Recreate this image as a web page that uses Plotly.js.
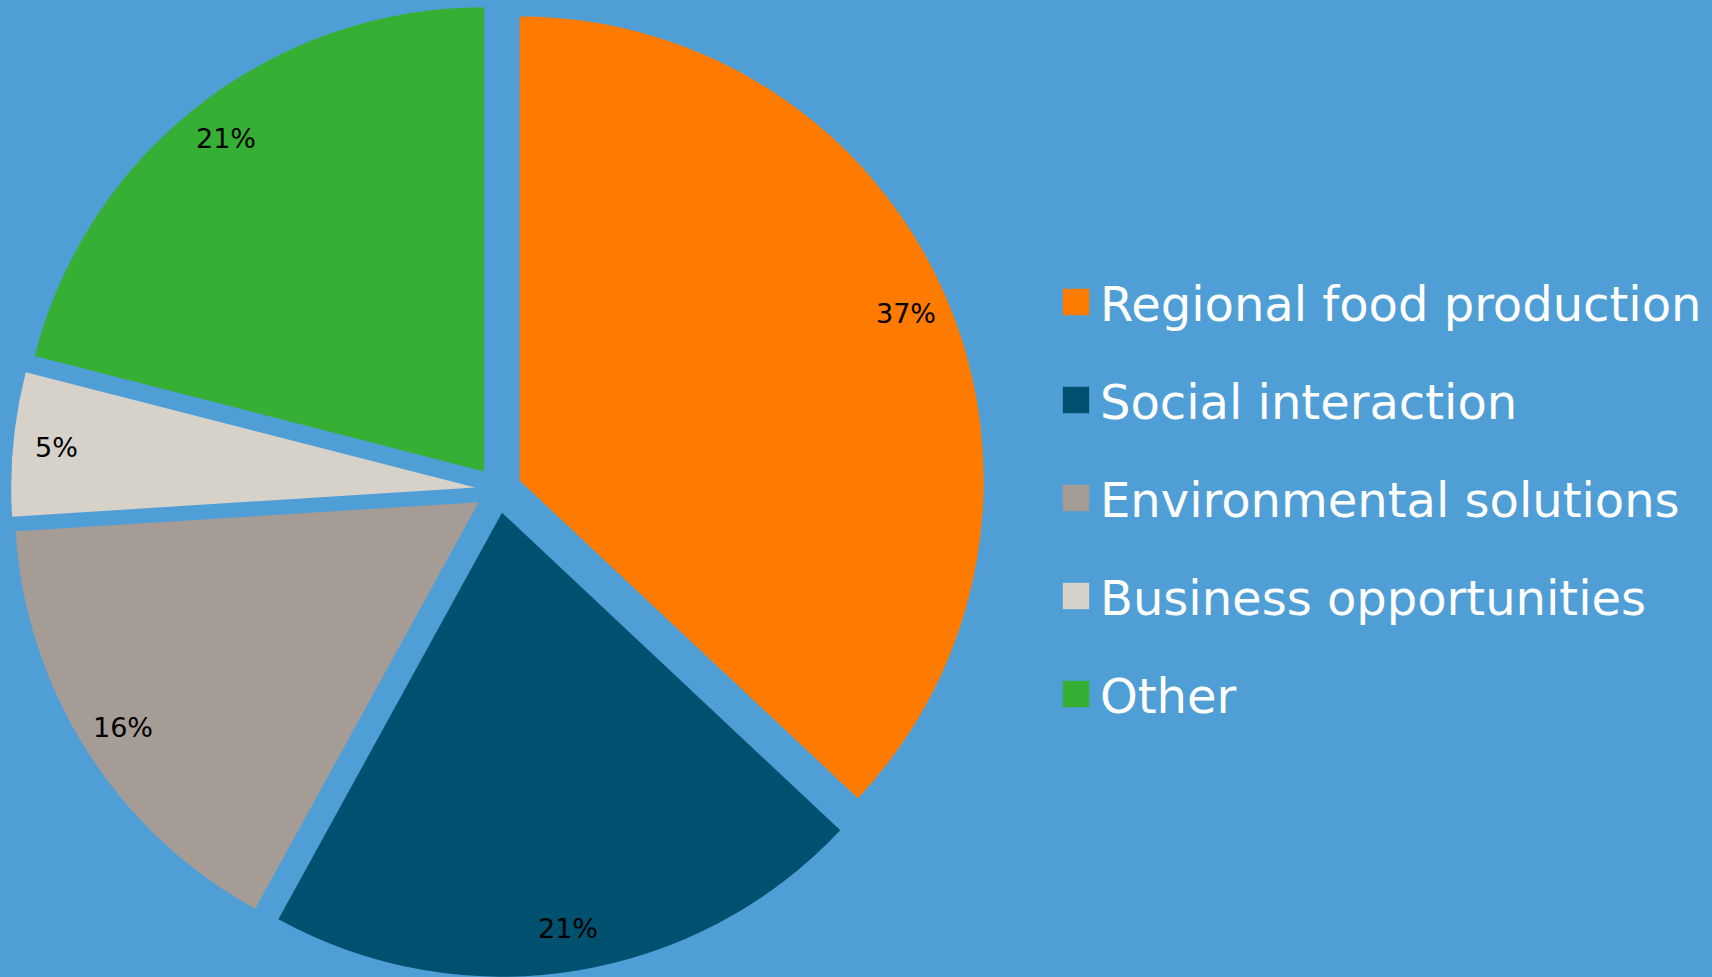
<!DOCTYPE html>
<html>
<head>
<meta charset="utf-8">
<script src="https://cdn.plot.ly/plotly-3.0.1.min.js"></script>
<style>
html,body{margin:0;padding:0;background:#509ED6;}
#chart{width:1712px;height:977px;}
</style>
</head>
<body>
<div id="chart"></div>
<script>
const categories = ["Regional food production", "Social interaction", "Environmental solutions", "Business opportunities", "Other"];
const shares = [37, 21, 16, 5, 21];
const sliceColors = ["#FF7B00", "#00506F", "#A59C96", "#D6D2CA", "#35B035"];

const W = 1712, H = 977;
const pieDomain = {x: [0, 0.5822], y: [0, 0.9975]};
const pullFrac = 0.05;
const labelRadiusFrac = 0.957;

const trace = {
  type: "pie",
  labels: categories,
  values: shares,
  sort: false,
  direction: "clockwise",
  rotation: 0,
  pull: categories.map(() => pullFrac),
  marker: {colors: sliceColors, line: {width: 0}},
  textinfo: "none",
  hoverinfo: "label+percent",
  domain: pieDomain
};

// percentage labels placed along each slice's bisector, derived from the data
const total = shares.reduce((a, b) => a + b, 0);
const cxPx = (pieDomain.x[0] + pieDomain.x[1]) / 2 * W;
const cyPx = H - (pieDomain.y[0] + pieDomain.y[1]) / 2 * H;
const rPx = Math.min((pieDomain.x[1] - pieDomain.x[0]) * W, (pieDomain.y[1] - pieDomain.y[0]) * H) / 2 / (1 + pullFrac);
let cum = 0;
const annotations = shares.map(v => {
  const mid = (cum + v / 2) / total * 2 * Math.PI;
  cum += v;
  const d = labelRadiusFrac * rPx;
  const px = cxPx + d * Math.sin(mid);
  const py = cyPx - d * Math.cos(mid);
  return {
    xref: "paper", yref: "paper",
    x: px / W, y: 1 - py / H,
    xanchor: "center", yanchor: "middle",
    showarrow: false,
    text: Math.round(v / total * 100) + "%",
    font: {family: "DejaVu Sans", size: 27, color: "#000000"}
  };
});

const layout = {
  width: W,
  height: H,
  margin: {l: 0, r: 0, t: 0, b: 0},
  paper_bgcolor: "#509ED6",
  plot_bgcolor: "#509ED6",
  showlegend: true,
  annotations: annotations,
  legend: {
    x: 0.605, xanchor: "left",
    y: 0.5, yanchor: "middle",
    font: {family: "DejaVu Sans", size: 48, color: "#FFFFFF"},
    bgcolor: "rgba(0,0,0,0)",
    itemclick: false, itemdoubleclick: false
  }
};

Plotly.newPlot("chart", [trace], layout, {displayModeBar: false, staticPlot: true}).then(() => {
  const legend = document.querySelector("#chart .legend");
  if (!legend) return;
  legend.querySelectorAll("[clip-path]").forEach(el => el.removeAttribute("clip-path"));
  legend.removeAttribute("clip-path");
  const items = legend.querySelectorAll(".traces");
  const gap = 98;
  items.forEach((g, i) => {
    g.setAttribute("transform", "translate(0," + (i * gap) + ")");
    const p = g.querySelector(".legendpoints path");
    if (p) p.setAttribute("transform", "translate(16,0) scale(2.2)");
  });
  const sb = legend.querySelector(".scrollbox");
  if (sb) sb.setAttribute("transform", "translate(0,0)");
  legend.setAttribute("transform", "translate(1060,302)");
});
</script>
</body>
</html>
